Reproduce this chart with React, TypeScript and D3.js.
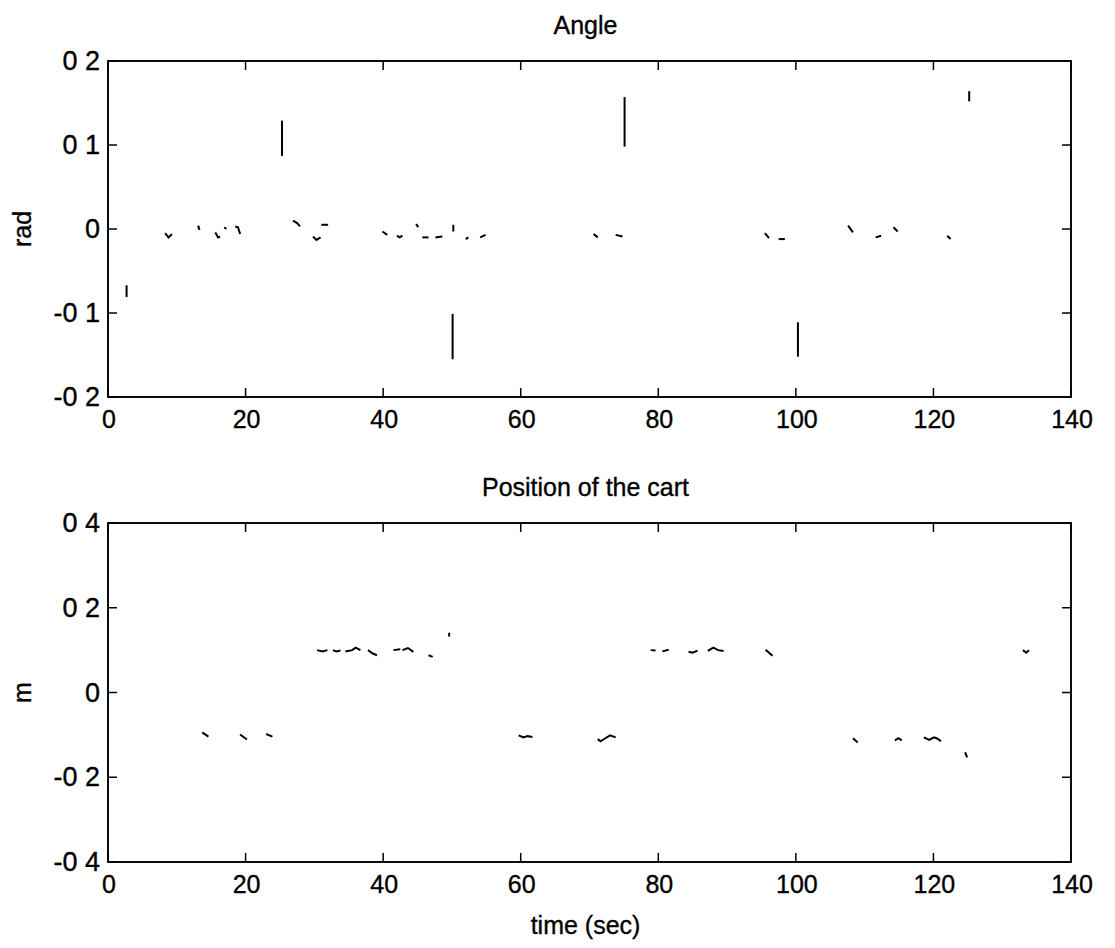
import React from "react";
import * as d3 from "d3";

// ---- data (visible trace fragments) ----
const timeTicks = [0, 20, 40, 60, 80, 100, 120, 140];
const angleTicks = [-0.2, -0.1, 0, 0.1, 0.2];
const angleTickLabels = ["-0 2", "-0 1", "0", "0 1", "0 2"];
const posTicks = [-0.4, -0.2, 0, 0.2, 0.4];
const posTickLabels = ["-0 4", "-0 2", "0", "0 2", "0 4"];

// each fragment is a short polyline of [time, value]
const angleFragments: [number, number][][] = [
  [[2.7, -0.067], [2.7, -0.081]],
  [[8.3, -0.005], [8.8, -0.01], [9.3, -0.006]],
  [[13.1, 0.004], [13.3, -0.001]],
  [[15.6, -0.004], [16.0, -0.01], [16.3, -0.009]],
  [[16.9, 0.002], [17.2, 0.0]],
  [[18.5, 0.003], [18.9, 0.002], [19.2, -0.006]],
  [[25.3, 0.129], [25.3, 0.087]],
  [[26.9, 0.01], [27.5, 0.007], [27.9, 0.003]],
  [[29.8, -0.009], [30.3, -0.013], [30.9, -0.01]],
  [[31.0, 0.005], [32.0, 0.005]],
  [[39.9, -0.003], [40.6, -0.007]],
  [[42.0, -0.008], [42.4, -0.01], [42.8, -0.008]],
  [[44.8, 0.006], [45.1, 0.002]],
  [[45.7, -0.01], [46.6, -0.01]],
  [[47.6, -0.01], [48.6, -0.009]],
  [[50.1, -0.101], [50.1, -0.155]],
  [[50.2, 0.005], [50.2, -0.003]],
  [[52.0, -0.012], [52.4, -0.01]],
  [[54.1, -0.01], [54.9, -0.007]],
  [[70.6, -0.006], [71.2, -0.01]],
  [[73.8, -0.007], [74.8, -0.009]],
  [[75.1, 0.157], [75.1, 0.098]],
  [[95.5, -0.005], [96.1, -0.011]],
  [[97.5, -0.012], [98.4, -0.012]],
  [[100.3, -0.111], [100.3, -0.152]],
  [[107.6, 0.004], [108.3, -0.004]],
  [[111.6, -0.01], [112.4, -0.008]],
  [[114.2, 0.002], [114.8, -0.003]],
  [[122.0, -0.008], [122.5, -0.012]],
  [[125.2, 0.164], [125.2, 0.152]],
];

const positionFragments: [number, number][][] = [
  [[13.7, -0.094], [14.6, -0.104]],
  [[19.2, -0.099], [20.2, -0.111]],
  [[23.0, -0.098], [23.9, -0.104]],
  [[30.4, 0.1], [31.2, 0.097], [31.9, 0.1]],
  [[32.7, 0.1], [33.2, 0.097], [33.8, 0.099]],
  [[34.5, 0.097], [35.5, 0.1], [36.0, 0.106], [36.7, 0.1]],
  [[37.8, 0.1], [38.5, 0.092], [39.1, 0.088]],
  [[41.5, 0.1], [42.5, 0.102]],
  [[42.8, 0.1], [43.6, 0.105], [44.4, 0.096]],
  [[46.6, 0.088], [47.2, 0.084]],
  [[49.6, 0.141], [49.6, 0.132]],
  [[59.7, -0.101], [60.4, -0.106], [61.0, -0.103], [61.7, -0.105]],
  [[71.2, -0.11], [71.6, -0.115], [72.3, -0.108], [73.0, -0.101], [73.8, -0.106]],
  [[78.9, 0.1], [79.6, 0.099]],
  [[80.6, 0.097], [81.5, 0.101]],
  [[84.4, 0.096], [85.0, 0.094], [85.7, 0.099]],
  [[87.2, 0.098], [88.0, 0.106], [88.7, 0.1], [89.5, 0.098]],
  [[95.6, 0.101], [96.6, 0.087]],
  [[108.3, -0.108], [109.0, -0.118]],
  [[114.4, -0.113], [114.9, -0.108], [115.4, -0.113]],
  [[118.6, -0.106], [119.4, -0.112], [120.1, -0.106], [120.6, -0.109], [121.1, -0.115]],
  [[124.6, -0.141], [124.9, -0.153]],
  [[133.0, 0.1], [133.5, 0.094], [133.9, 0.1]],
];

const FONT = "'Liberation Sans', Arial, Helvetica, sans-serif";

type PanelProps = {
  top: number;
  bottom: number;
  yDomain: [number, number];
  yTicks: number[];
  yTickLabels: string[];
  fragments: [number, number][][];
  title: string;
  yLabel: string;
  xLabel?: string;
};

const LEFT = 108;
const RIGHT = 1071;
const TICK = 9;

function Panel({ top, bottom, yDomain, yTicks, yTickLabels, fragments, title, yLabel, xLabel }: PanelProps) {
  const x = d3.scaleLinear().domain([0, 140]).range([LEFT, RIGHT]);
  const y = d3.scaleLinear().domain(yDomain).range([bottom, top]);
  const line = d3
    .line<[number, number]>()
    .x((d) => x(d[0]))
    .y((d) => y(d[1]));
  const cx = (LEFT + RIGHT) / 2;
  const midY = (top + bottom) / 2;
  const textStyle = { stroke: "#000", strokeWidth: 0.35 };
  return (
    <g>
      <text x={cx - 4} y={top - 27} fontSize={25} textAnchor="middle" fontFamily={FONT} style={textStyle}>
        {title}
      </text>
      <rect x={LEFT} y={top} width={RIGHT - LEFT} height={bottom - top} fill="none" stroke="#000" strokeWidth={1.9} />
      {timeTicks.map((t) => (
        <g key={"xt" + t}>
          <line x1={x(t)} x2={x(t)} y1={bottom} y2={bottom - TICK} stroke="#000" strokeWidth={1.5} />
          <line x1={x(t)} x2={x(t)} y1={top} y2={top + TICK} stroke="#000" strokeWidth={1.5} />
          <text x={x(t) + 1} y={bottom + 31} fontSize={25} textAnchor="middle" fontFamily={FONT} style={textStyle}>
            {t}
          </text>
        </g>
      ))}
      {yTicks.map((v, i) => (
        <g key={"yt" + v}>
          <line x1={LEFT} x2={LEFT + TICK} y1={y(v)} y2={y(v)} stroke="#000" strokeWidth={1.5} />
          <line x1={RIGHT} x2={RIGHT - TICK} y1={y(v)} y2={y(v)} stroke="#000" strokeWidth={1.5} />
          <text x={LEFT - 8} y={y(v) + 9} fontSize={27} textAnchor="end" fontFamily={FONT} style={textStyle}>
            {yTickLabels[i]}
          </text>
        </g>
      ))}
      <text
        transform={`translate(31, ${midY}) rotate(-90)`}
        fontSize={25}
        textAnchor="middle"
        fontFamily={FONT}
        style={textStyle}
      >
        {yLabel}
      </text>
      {fragments.map((f, i) => (
        <path key={"f" + i} d={line(f) || ""} fill="none" stroke="#000" strokeWidth={2} />
      ))}
      {xLabel ? (
        <text x={cx - 4} y={bottom + 72} fontSize={25} textAnchor="middle" fontFamily={FONT} style={textStyle}>
          {xLabel}
        </text>
      ) : null}
    </g>
  );
}

export default function App() {
  return (
    <svg width={1115} height={948} style={{ display: "block", position: "absolute", left: 0, top: 0, background: "#fff" }}>
      <rect x={0} y={0} width={1115} height={948} fill="#fff" />
      <Panel
        top={61}
        bottom={397}
        yDomain={[-0.2, 0.2]}
        yTicks={angleTicks}
        yTickLabels={angleTickLabels}
        fragments={angleFragments}
        title="Angle"
        yLabel="rad"
      />
      <Panel
        top={523}
        bottom={862}
        yDomain={[-0.4, 0.4]}
        yTicks={posTicks}
        yTickLabels={posTickLabels}
        fragments={positionFragments}
        title="Position of the cart"
        yLabel="m"
        xLabel="time (sec)"
      />
    </svg>
  );
}
